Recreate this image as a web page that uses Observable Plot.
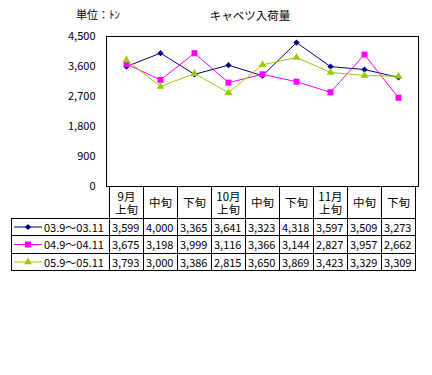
<!DOCTYPE html>
<html><head><meta charset="utf-8">
<script src="https://cdn.jsdelivr.net/npm/d3@7"></script>
<script src="https://cdn.jsdelivr.net/npm/@observablehq/plot@0.6"></script>
<style>
body{margin:0;background:#fff;}
#wrap{position:relative;width:432px;height:375px;overflow:hidden;background:#fff;font-family:"Noto Sans CJK JP","Noto Sans",sans-serif;color:#000;}
#chart{position:absolute;left:0;top:0;}
.lbl{position:absolute;white-space:nowrap;line-height:1;}
.cell{position:absolute;box-sizing:border-box;border:1px solid #000;font-size:11px;white-space:nowrap;overflow:hidden;}
</style></head>
<body><div id="wrap"><div id="chart"></div></div>
<script>
// ---- data ----
const periodKeys = [0,1,2,3,4,5,6,7,8];
const periodLabels = ["9月\n上旬","中旬","下旬","10月\n上旬","中旬","下旬","11月\n上旬","中旬","下旬"];
const seriesNames = ["03.9～03.11","04.9～04.11","05.9～05.11"];
const s03 = [3599,4000,3365,3641,3323,4318,3597,3509,3273];
const s04 = [3675,3198,3999,3116,3366,3144,2827,3957,2662];
const s05 = [3793,3000,3386,2815,3650,3869,3423,3329,3309];
const yTicks = [0,900,1800,2700,3600,4500];
const colors = ["#000080","#FF00FF","#99CC00"];
const symbols = ["diamond2","square","triangle"];
const markerR = [2.8,3.4,2.9];
const titleText = "キャベツ入荷量";
const unitText = "単位：ﾄﾝ";

const allSeries = [s03,s04,s05];
const rows = [];
allSeries.forEach((vals,si)=>vals.forEach((v,i)=>rows.push({i, v, s: seriesNames[si]})));
const fmt = d3.format(",");

const plot = Plot.plot({
  width: 432, height: 190,
  marginLeft: 106, marginRight: 14, marginTop: 36, marginBottom: 4,
  style: {fontFamily: '"Noto Sans CJK JP",sans-serif', fontSize: "11px", background: "transparent", overflow: "visible", color: "#000"},
  x: {type: "band", domain: periodKeys, padding: 0, axis: null},
  y: {domain: [0,4500], ticks: yTicks, tickFormat: fmt, tickSize: 0, tickPadding: 11, label: null},
  color: {domain: seriesNames, range: colors},
  symbol: {domain: seriesNames, range: symbols},
  marks: [
    Plot.frame({stroke: "#000"}),
    ...seriesNames.flatMap((name, si) => [
      Plot.line(rows.filter(d=>d.s===name), {x: "i", y: "v", stroke: "s", strokeWidth: 1}),
      Plot.dot(rows.filter(d=>d.s===name), {x: "i", y: "v", symbol: "s", fill: "s", r: markerR[si]})
    ])
  ]
});
document.getElementById("chart").appendChild(plot);

const wrap = document.getElementById("wrap");
function addLabel(text, x, y, size, anchor){
  const d = document.createElement("div");
  d.className = "lbl"; d.textContent = text;
  d.style.fontSize = size + "px";
  d.style.top = y + "px";
  d.style.left = x + "px";
  if (anchor === "middle") d.style.transform = "translateX(-50%)";
  wrap.appendChild(d);
}
addLabel(titleText, 250, 10, 11.5, "middle");
addLabel(unitText, 76, 9, 11, "start");

// ---- data table, columns taken from the Plot x scale ----
const xs = plot.scale("x");
const bw = xs.bandwidth;
const colX = i => xs.apply(i);
const tableLeft = 11;
const hdrTop = 186, hdrBottom = 218;
const rowH = 17.3;
function cell(x0, x1, y0, y1){
  const d = document.createElement("div");
  d.className = "cell";
  const l = Math.round(x0), r = Math.round(x1), t = Math.round(y0), b = Math.round(y1);
  d.style.left = l + "px"; d.style.top = t + "px";
  d.style.width = (r - l + 1) + "px"; d.style.height = (b - t + 1) + "px";
  wrap.appendChild(d);
  return d;
}
// header
periodKeys.forEach((k,i)=>{
  const c = cell(colX(k), colX(k)+bw, hdrTop, hdrBottom);
  c.style.display = "flex"; c.style.alignItems = "center"; c.style.justifyContent = "center";
  c.style.textAlign = "center"; c.style.lineHeight = "13px"; c.style.fontSize = "11.5px";
  c.style.whiteSpace = "pre";
  c.textContent = periodLabels[i];
});
// rows
const symMap = {diamond2: d3.symbolDiamond2, square: d3.symbolSquare, triangle: d3.symbolTriangle};
seriesNames.forEach((name, si)=>{
  const y0 = hdrBottom + si*rowH, y1 = y0 + rowH;
  const lc = cell(tableLeft, colX(0), y0, y1);
  const h = Math.round(y1) - Math.round(y0);
  const svg = d3.select(lc).append("svg").attr("width", 92).attr("height", h)
    .style("position","absolute").style("left","0px").style("top","0px");
  const cy = (h-1)/2;
  svg.append("line").attr("x1",2).attr("x2",30).attr("y1",cy).attr("y2",cy)
    .attr("stroke",colors[si]).attr("stroke-width",1);
  svg.append("path").attr("d", d3.symbol(symMap[symbols[si]], Math.PI*markerR[si]*markerR[si])())
    .attr("transform", `translate(16,${cy})`).attr("fill", colors[si]);
  const t = document.createElement("div");
  t.textContent = name;
  t.style.position = "absolute"; t.style.left = "32px"; t.style.top = "0px";
  t.style.lineHeight = (h-1) + "px"; t.style.fontSize = "11px";
  lc.appendChild(t);
  allSeries[si].forEach((v,i)=>{
    const c = cell(colX(i), colX(i)+bw, y0, y1);
    c.style.paddingLeft = "2px"; c.style.lineHeight = (h-1) + "px";
    c.textContent = fmt(v);
  });
});
</script></body></html>
